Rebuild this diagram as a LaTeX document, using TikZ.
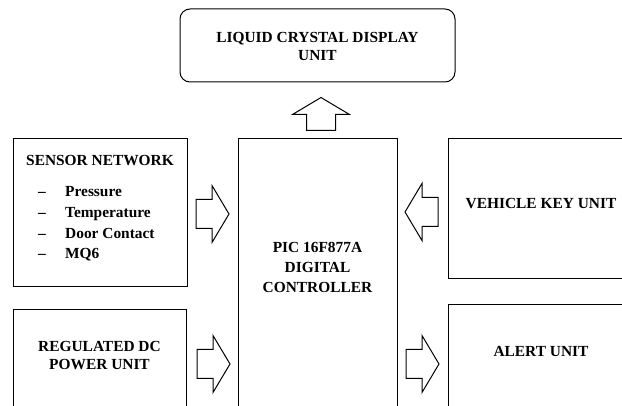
\documentclass[tikz,border=0pt]{standalone}
\usepackage{fontspec}
\setmainfont{Liberation Serif}[BoldFont={Liberation Serif Bold}]
\begin{document}
\begin{tikzpicture}[x=1pt,y=-1pt,
  box/.style={draw,line width=1pt,inner sep=0pt},
  lbl/.style={anchor=base,inner sep=0pt,font=\fontsize{15.4}{18}\selectfont\bfseries\rmfamily},
  blockarrow/.pic={\draw[line width=1pt,line join=miter] (0,-14.5) -- (16,-14.5) -- (16,-28.5) -- (33,0) -- (16,28.5) -- (16,14.5) -- (0,14.5) -- cycle;}
]
\useasboundingbox (0,0) rectangle (622,406);
\fill[white] (0,0) rectangle (622,406);
\clip (0,0) rectangle (622,406);

% boxes
\node[box,rounded corners=10pt,minimum width=275pt,minimum height=73pt] (lcd) at (317.5,45.5) {};
\node[box,minimum width=174pt,minimum height=148pt] (sensor) at (100,213) {};
\node[box,minimum width=173pt,minimum height=130pt] (reg) at (99.5,375) {};
\node[box,minimum width=159pt,minimum height=300pt] (pic) at (317.5,289) {};
\node[box,minimum width=200pt,minimum height=140pt] (key) at (548,209) {};
\node[box,minimum width=200pt,minimum height=130pt] (alert) at (548,370) {};

% texts
\node[lbl] (t1) at (317.5,43) {LIQUID CRYSTAL DISPLAY};
\node[lbl] (t2) at (317.5,61) {UNIT};
\node[lbl] (s0) at (100,166) {SENSOR NETWORK};
\node[lbl,anchor=base west] (s1) at (65,197) {Pressure};
\node[lbl,anchor=base west] (s2) at (65,218) {Temperature};
\node[lbl,anchor=base west] (s3) at (65,239) {Door Contact};
\node[lbl,anchor=base west] (s4) at (65,259) {MQ6};
\node[lbl] (d1) at (42,197) {–};
\node[lbl] (d2) at (42,218) {–};
\node[lbl] (d3) at (42,239) {–};
\node[lbl] (d4) at (42,259) {–};
\node[lbl] (r1) at (99.5,352) {REGULATED DC};
\node[lbl] (r2) at (99.5,370) {POWER UNIT};
\node[lbl] (p1) at (317.5,253) {PIC 16F877A};
\node[lbl] (p2) at (317.5,273) {DIGITAL};
\node[lbl] (p3) at (317.5,293) {CONTROLLER};
\node[lbl] (k1) at (541,209) {VEHICLE KEY UNIT};
\node[lbl] (a1) at (541,357) {ALERT UNIT};

% block arrows
\pic at (196,214) {blockarrow};
\pic at (197,364) {blockarrow};
\pic at (406,364) {blockarrow};
\pic[rotate=180] at (438,212) {blockarrow};
\pic[rotate=90] at (321,130.5) {blockarrow};
\end{tikzpicture}
\end{document}
